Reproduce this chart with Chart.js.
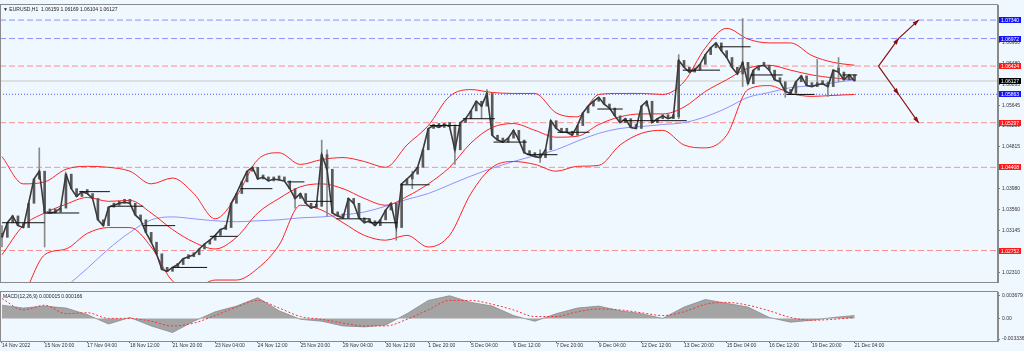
<!DOCTYPE html>
<html>
<head>
<meta charset="utf-8">
<script src="https://cdn.jsdelivr.net/npm/chart.js@4/dist/chart.umd.min.js"></script>
<style>
  body { margin: 0; width: 1024px; height: 351px; overflow: hidden; background: #f0f8ff; position: relative; }
  canvas { position: absolute; left: 0; background: #f0f8ff; }
  #main { top: 0; }
  #macd { top: 287px; }
</style>
</head>
<body>
<canvas id="main" width="1024" height="287"></canvas>
<canvas id="macd" width="1024" height="64"></canvas>
<script>
// EURUSD H1, 14 Nov - 21 Dec 2022. x = hourly bar index (0 = 14 Nov 12:00)
const candleStep = 4;   // one drawn candle per 4 hourly bars
const bandStep = 16;    // indicators read every 16 bars

const closes = [
  1.03015, 1.03305, 1.03441, 1.03247, 1.03209, 1.03692, 1.04176, 1.04331, 1.03499, 1.03499,
  1.03518, 1.03596, 1.04273, 1.03983, 1.03828, 1.03924, 1.03886, 1.03789, 1.03363, 1.03247,
  1.03615, 1.03654, 1.03692, 1.03712, 1.03692, 1.03460, 1.03363, 1.03113, 1.02918, 1.02686,
  1.02376, 1.02338, 1.02415, 1.02473, 1.02589, 1.02628, 1.02667, 1.02783, 1.02880, 1.02957,
  1.03054, 1.03170, 1.03209, 1.03692, 1.03886, 1.04118, 1.04331, 1.04408, 1.04176, 1.04215,
  1.04137, 1.04176, 1.04157, 1.04137, 1.03983, 1.03789, 1.03886, 1.03692, 1.03596, 1.03634,
  1.04660, 1.04370, 1.03499, 1.03441, 1.03402, 1.03789, 1.03692, 1.03402, 1.03305, 1.03344,
  1.03247, 1.03363, 1.03557, 1.03692, 1.03209, 1.04079, 1.04176, 1.04273, 1.04408, 1.04757,
  1.05182, 1.05240, 1.05202, 1.05260, 1.05221, 1.04757, 1.05298, 1.05376, 1.05531, 1.05724,
  1.05627, 1.05879, 1.05047, 1.04950, 1.04911, 1.04989, 1.05145, 1.04950, 1.04698, 1.04660,
  1.04621, 1.04602, 1.04757, 1.05337, 1.05182, 1.05106, 1.05106, 1.05047, 1.05240, 1.05492,
  1.05627, 1.05724, 1.05801, 1.05666, 1.05589, 1.05434, 1.05298, 1.05376, 1.05202, 1.05182,
  1.05627, 1.05724, 1.05298, 1.05376, 1.05434, 1.05376, 1.05414, 1.06537, 1.06401, 1.06305,
  1.06343, 1.06459, 1.06653, 1.06788, 1.06885, 1.06730, 1.06595, 1.06401, 1.06266, 1.06498,
  1.06073, 1.06343, 1.06421, 1.06440, 1.06343, 1.06151, 1.06112, 1.05918, 1.05879, 1.06112,
  1.06228, 1.06035, 1.06015, 1.06054, 1.06073, 1.06015, 1.06343, 1.06305, 1.06151, 1.06247,
  1.06127
];

// long wicks that stick out of the price band
const wickIdx  = [0, 28, 32, 220, 240, 244, 296, 308, 340, 360, 364, 404, 508, 556, 588, 612, 620, 628];
const wickHigh = [1.03247, 1.04795, 1.03789, 1.03886, 1.04950, 1.04757, 1.03692, 1.04331, 1.05260, 1.05724, 1.05956, 1.04757, 1.06653, 1.07369, 1.06015, 1.06556, 1.06112, 1.06595];
const wickLow  = [1.02822, 1.04176, 1.02822, 1.03596, 1.03634, 1.03441, 1.02957, 1.03983, 1.04466, 1.05376, 1.05724, 1.04505, 1.05376, 1.06015, 1.05801, 1.06015, 1.05821, 1.06112];

// Bollinger bands and moving average
const bbUpper = [
  1.04621, 1.04079, 1.04118, 1.04370, 1.04428, 1.04408, 1.04331, 1.04079, 1.04195, 1.03886,
  1.03383, 1.03828, 1.04563, 1.04698, 1.04466, 1.04563, 1.04602, 1.04524, 1.04408, 1.04853,
  1.05240, 1.05821, 1.05956, 1.05898, 1.05879, 1.05879, 1.05492, 1.05414, 1.05859, 1.05879,
  1.05879, 1.05859, 1.06111, 1.06788, 1.07175, 1.06962, 1.06885, 1.06885, 1.06633, 1.06498,
  1.06440
];
const bbMiddle = [
  1.02667, 1.03247, 1.03499, 1.03673, 1.03808, 1.03731, 1.03750, 1.03499, 1.03170, 1.02918,
  1.02783, 1.03015, 1.03499, 1.03789, 1.04021, 1.04079, 1.03983, 1.03789, 1.03654, 1.03828,
  1.04079, 1.04408, 1.04892, 1.05202, 1.05279, 1.05145, 1.05008, 1.05027, 1.05260, 1.05414,
  1.05472, 1.05472, 1.05608, 1.05918, 1.06151, 1.06382, 1.06440, 1.06343, 1.06247, 1.06189,
  1.06151
];
const bbLower = [
  1.01274, 1.01854, 1.02667, 1.02783, 1.03092, 1.03209, 1.03209, 1.02822, 1.02144, 1.02009,
  1.02164, 1.02164, 1.02396, 1.02860, 1.03654, 1.03557, 1.03305, 1.03054, 1.02957, 1.03054,
  1.02822, 1.03054, 1.03886, 1.04408, 1.04524, 1.04466, 1.04331, 1.04428, 1.04447, 1.04853,
  1.05085, 1.05145, 1.04853, 1.04795, 1.05047, 1.05956, 1.06035, 1.05879, 1.05821, 1.05840,
  1.05859
];
const maLine = [
  null, null, null, 1.02028, 1.02396, 1.02783, 1.03113, 1.03363, 1.03421, 1.03383,
  1.03344, 1.03325, 1.03344, 1.03363, 1.03402, 1.03421, 1.03460, 1.03518, 1.03634, 1.03770,
  1.03886, 1.04060, 1.04234, 1.04389, 1.04524, 1.04640, 1.04757, 1.04931, 1.05085, 1.05182,
  1.05221, 1.05260, 1.05298, 1.05414, 1.05589, 1.05801, 1.05898, 1.05995, 1.06035, 1.06092,
  1.06151
];

// daily black level segments
const segFrom  = [0, 34, 58, 81, 106, 128, 156, 179, 214, 229, 251, 276, 299, 321, 346, 369, 394, 417, 447, 466, 489, 511, 539, 562, 589, 631];
const segTo    = [32, 58, 81, 106, 130, 154, 177, 203, 227, 248, 276, 297, 321, 344, 370, 394, 417, 441, 466, 489, 514, 539, 562, 586, 610, 642];
const segLevel = [1.03305, 1.03499, 1.03924, 1.03634, 1.03247, 1.02415, 1.03034, 1.03983, 1.04118, 1.03731,
                  1.03383, 1.03305, 1.04060, 1.05240, 1.05376, 1.04911, 1.04660, 1.05106, 1.05569, 1.05337,
                  1.05337, 1.06343, 1.06808, 1.06247, 1.05859, 1.06247];

// horizontal levels
const blueLevels = [1.07340, 1.06972];
const redLevels = [1.06424, 1.05297, 1.04408, 1.02752];
const dottedLevel = 1.05863;
const lastPrice = 1.06127;

// projected scenario arrows (bar index, price)
const arrowIdx = [658, 673, 688];
const arrowUp = [1.06424, 1.06972, 1.07340];
const arrowDown = [1.06424, 1.05863, 1.05297];

// MACD(12,26,9)
const macdHist = [
  0.00213, 0.00167, 0.00198, 0.00167, 0.00061, -0.00091, 0.00015, -0.00122, -0.00228, -0.00046,
  0.00106, 0.00198, 0.00334, 0.00122, -0.00015, -0.00046, -0.00122, -0.00137, -0.00106, 0.00076,
  0.00289, 0.00365, 0.00258, 0.00198, 0.00046, -0.00046, 0.00076, 0.00167, 0.00198, 0.00122,
  0.00076, 0.00000, 0.00182, 0.00304, 0.00243, 0.00182, 0.00015, -0.00061, -0.00030, 0.00015,
  0.00046
];
const macdSignal = [
  0.00319, 0.00137, 0.00213, 0.00076, 0.00091, 0.00000, 0.00000, -0.00046, -0.00122, -0.00076,
  0.00046, 0.00182, 0.00289, 0.00167, 0.00030, -0.00015, -0.00076, -0.00122, -0.00122, -0.00015,
  0.00137, 0.00289, 0.00289, 0.00228, 0.00137, 0.00030, 0.00030, 0.00106, 0.00152, 0.00137,
  0.00091, 0.00046, 0.00106, 0.00228, 0.00258, 0.00213, 0.00122, 0.00015, -0.00030, -0.00015,
  0.00015
];

// axis labels
const priceTicks = [1.02310, 1.02730, 1.03145, 1.03560, 1.03980, 1.04400, 1.04815, 1.05230, 1.05645, 1.06063, 1.06480, 1.06900, 1.07315];
const macdTicks = [-0.003336, 0, 0.003679];
const dateTicks = [0, 32, 64, 96, 128, 160, 192, 224, 256, 288, 320, 352, 384, 416, 448, 480, 512, 544, 576, 608, 640];
const dateLabels = ['14 Nov 2022', '15 Nov 20:00', '17 Nov 04:00', '18 Nov 12:00', '21 Nov 20:00', '23 Nov 04:00',
  '24 Nov 12:00', '25 Nov 20:00', '29 Nov 04:00', '30 Nov 12:00', '1 Dec 20:00', '5 Dec 04:00', '6 Dec 12:00',
  '7 Dec 20:00', '9 Dec 04:00', '12 Dec 12:00', '13 Dec 20:00', '15 Dec 04:00', '16 Dec 12:00', '19 Dec 20:00',
  '21 Dec 04:00'];

const X_MIN = -1.5, X_MAX = 747.7;
const FONT = '"Liberation Sans", Arial, sans-serif';
Chart.defaults.font.family = FONT;
Chart.defaults.font.size = 5;
Chart.defaults.color = '#333';

// ---------- plugins ----------
const frame = {
  id: 'frame',
  afterDraw(chart) {
    const { ctx, chartArea: a } = chart;
    ctx.save();
    ctx.strokeStyle = '#8a8a8a';
    ctx.lineWidth = 1;
    ctx.strokeRect(a.left + 0.5, a.top - 0.5, a.right - a.left - 1, a.bottom - a.top + 1);
    ctx.restore();
  }
};

function caption(text) {
  return {
    id: 'caption',
    afterDraw(chart) {
      const { ctx, chartArea: a } = chart;
      ctx.save();
      ctx.font = '5px ' + FONT;
      ctx.fillStyle = '#222';
      ctx.textBaseline = 'middle';
      ctx.fillText(text, a.left + 3, a.top + 4.5);
      ctx.restore();
    }
  };
}

const priceBoxes = {
  id: 'priceBoxes',
  afterDraw(chart) {
    const { ctx, chartArea: a, scales: { y } } = chart;
    const boxes = [
      ...blueLevels.map(v => [v, '#1414ff']),
      ...redLevels.map(v => [v, '#ff1a1a']),
      [dottedLevel, '#1414ff'],
      [lastPrice, '#000000']
    ];
    ctx.save();
    ctx.font = '5px ' + FONT;
    ctx.textBaseline = 'middle';
    boxes.forEach(([v, color]) => {
      const py = Math.round(y.getPixelForValue(v));
      ctx.fillStyle = color;
      ctx.fillRect(a.right + 1, py - 3, 22, 6);
      ctx.fillStyle = '#fff';
      ctx.fillText(v.toFixed(5), a.right + 3, py + 0.5);
    });
    ctx.restore();
  }
};

const arrowHeads = {
  id: 'arrowHeads',
  afterDatasetsDraw(chart) {
    const { ctx } = chart;
    chart.data.datasets.forEach((ds, i) => {
      if (!ds.arrow) return;
      const pts = chart.getDatasetMeta(i).data;
      ctx.save();
      ctx.fillStyle = ds.borderColor;
      for (let k = 1; k < pts.length; k++) {
        const p0 = pts[k - 1], p1 = pts[k];
        const ang = Math.atan2(p1.y - p0.y, p1.x - p0.x);
        ctx.save();
        ctx.translate(p1.x, p1.y);
        ctx.rotate(ang);
        ctx.beginPath();
        ctx.moveTo(1, 0);
        ctx.lineTo(-6, -2.2);
        ctx.lineTo(-6, 2.2);
        ctx.closePath();
        ctx.fill();
        ctx.restore();
      }
      ctx.restore();
    });
  }
};

// ---------- main price chart ----------
const candleData = closes.map((c, i) => ({ x: i * candleStep, y: [i ? closes[i - 1] : c, c] }));
const closeLine = closes.map((c, i) => ({ x: i * candleStep, y: c }));
const wickData = wickIdx.map((x, i) => ({ x, y: [wickLow[i], wickHigh[i]] }));
const bandPts = arr => arr.map((v, k) => ({ x: k * bandStep, y: v }));

const levelLine = (v, color, dash, width) => ({
  type: 'line',
  data: [{ x: X_MIN, y: v }, { x: X_MAX, y: v }],
  borderColor: color, borderDash: dash, borderWidth: width || 1,
  pointRadius: 0, order: 20
});
const bandLine = (arr, color) => ({
  type: 'line', data: bandPts(arr), borderColor: color, borderWidth: 1,
  pointRadius: 0, cubicInterpolationMode: 'monotone', spanGaps: false, order: 8
});

const mainDatasets = [
  ...segFrom.map((f, i) => ({
    type: 'line', data: [{ x: f, y: segLevel[i] }, { x: segTo[i], y: segLevel[i] }],
    borderColor: '#111', borderWidth: 1, pointRadius: 0, order: 2
  })),
  {
    type: 'line', arrow: true, data: arrowIdx.map((x, i) => ({ x, y: arrowUp[i] })),
    borderColor: '#8b1010', borderWidth: 1.2, pointRadius: 0, order: 1
  },
  {
    type: 'line', arrow: true, data: arrowIdx.map((x, i) => ({ x, y: arrowDown[i] })),
    borderColor: '#8b1010', borderWidth: 1.2, pointRadius: 0, order: 1
  },
  {
    type: 'line', data: closeLine, borderColor: '#3a3a3a', borderWidth: 1.6,
    pointRadius: 0, tension: 0, order: 3
  },
  {
    type: 'bar', data: candleData, backgroundColor: '#5a5a5a', borderWidth: 0,
    barThickness: 2, minBarLength: 4, grouped: false, order: 4
  },
  {
    type: 'bar', data: wickData, backgroundColor: '#8a8a8a', borderWidth: 0,
    barThickness: 1, grouped: false, order: 5
  },
  bandLine(bbUpper, '#ff2020'),
  bandLine(bbMiddle, '#ff2020'),
  bandLine(bbLower, '#ff2020'),
  { ...bandLine(maLine, '#9090ff'), order: 9 },
  ...blueLevels.map(v => levelLine(v, 'rgba(110,110,255,0.75)', [6, 3])),
  ...redLevels.map(v => levelLine(v, 'rgba(255,110,110,0.75)', [6, 3])),
  levelLine(dottedLevel, '#5050ff', [1, 2]),
  levelLine(lastPrice, '#c8c8c8', [])
];

new Chart(document.getElementById('main'), {
  type: 'bar',
  data: { datasets: mainDatasets },
  options: {
    responsive: false,
    animation: false,
    devicePixelRatio: 1,
    layout: { padding: { top: 1, bottom: 1, left: 0, right: 0 } },
    plugins: { legend: { display: false }, tooltip: { enabled: false } },
    scales: {
      x: { type: 'linear', min: X_MIN, max: X_MAX, offset: false, display: false },
      y: {
        position: 'right',
        min: 1.02125, max: 1.07640,
        afterFit: s => { s.width = 26; },
        afterBuildTicks: s => { s.ticks = priceTicks.map(v => ({ value: v })); },
        ticks: { callback: v => v.toFixed(5), padding: 2, color: '#333' },
        grid: { drawOnChartArea: false, tickLength: 2, color: '#777' },
        border: { color: '#8a8a8a' }
      }
    }
  },
  plugins: [frame, caption('\u25BC EURUSD,H1  1.06159 1.06169 1.06104 1.06127'), priceBoxes, arrowHeads]
});

// ---------- MACD panel ----------
new Chart(document.getElementById('macd'), {
  type: 'line',
  data: {
    datasets: [
      {
        data: bandPts(macdSignal), borderColor: '#ff3030', borderDash: [2, 2], borderWidth: 1,
        pointRadius: 0, cubicInterpolationMode: 'monotone', order: 1
      },
      {
        data: bandPts(macdHist), borderColor: '#8c8c8c', backgroundColor: '#a4a4a4', borderWidth: 0.8,
        fill: 'origin', pointRadius: 0, tension: 0, order: 2
      }
    ]
  },
  options: {
    responsive: false,
    animation: false,
    devicePixelRatio: 1,
    layout: { padding: { top: 2, bottom: 0, left: 0, right: 0 } },
    plugins: { legend: { display: false }, tooltip: { enabled: false } },
    scales: {
      x: {
        type: 'linear', min: X_MIN, max: X_MAX, offset: false,
        afterFit: s => { s.height = 10; },
        afterBuildTicks: s => { s.ticks = dateTicks.map(v => ({ value: v })); },
        ticks: {
          autoSkip: false, maxRotation: 0, align: 'start', padding: 0, color: '#333',
          callback: v => dateLabels[dateTicks.indexOf(v)]
        },
        grid: { drawOnChartArea: false, tickLength: 2, color: '#666' },
        border: { color: '#8a8a8a' }
      },
      y: {
        position: 'right',
        min: -0.003648, max: 0.004256,
        afterFit: s => { s.width = 26; },
        afterBuildTicks: s => { s.ticks = macdTicks.map(v => ({ value: v })); },
        ticks: { callback: v => (v === 0 ? '0.00' : v.toFixed(6)), padding: 2, color: '#333' },
        grid: { drawOnChartArea: false, tickLength: 2, color: '#777' },
        border: { color: '#8a8a8a' }
      }
    }
  },
  plugins: [frame, caption('MACD(12,26,9) 0.000015 0.000166')]
});
</script>
</body>
</html>
